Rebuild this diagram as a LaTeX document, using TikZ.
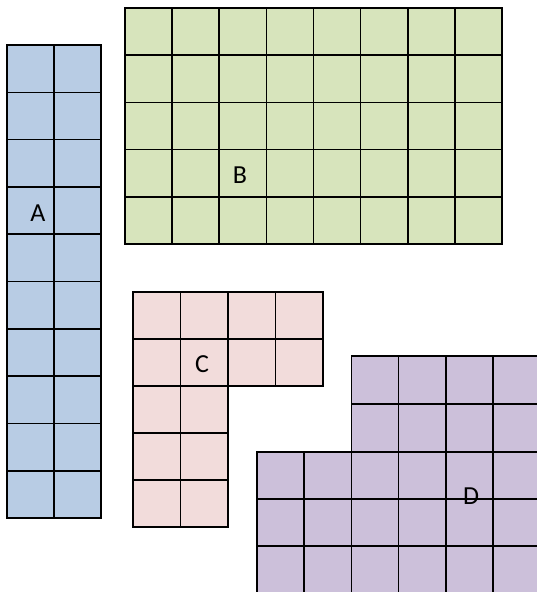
\documentclass[tikz,border=0pt]{standalone}
\usepackage{fontspec}
\setmainfont{Carlito}
\usepackage{xcolor}
\usepackage{tikz}

\definecolor{azulA}{HTML}{B8CCE4}
\definecolor{verdeB}{HTML}{D7E4BC}
\definecolor{rosaC}{HTML}{F2DCDB}
\definecolor{moradoD}{HTML}{CCC0DA}

\begin{document}
\begin{tikzpicture}[x=1pt, y=-1pt, line width=1.6pt,
  celda/.style={draw=black},
  etiqueta/.style={font=\fontsize{26}{30}\selectfont, inner sep=0pt}]
  \clip (0,0) rectangle (537,592);
  \fill[white] (0,0) rectangle (537,592);

  % Figura A
  \foreach \i in {0,1} \foreach \j in {0,...,9}
    \draw[celda, fill=azulA] (7+47*\i, 45+47.3*\j) rectangle ++(47,47.3);

  % Figura B
  \foreach \i in {0,...,7} \foreach \j in {0,...,4}
    \draw[celda, fill=verdeB] (125+47.125*\i, 8+47.2*\j) rectangle ++(47.125,47.2);

  % Figura C
  \foreach \i in {0,...,3} \foreach \j in {0,1}
    \draw[celda, fill=rosaC] (133+47.5*\i, 292+47*\j) rectangle ++(47.5,47);
  \foreach \i in {0,1} \foreach \j in {2,3,4}
    \draw[celda, fill=rosaC] (133+47.5*\i, 292+47*\j) rectangle ++(47.5,47);

  % Figura D
  \foreach \i in {2,...,5} \foreach \j in {0,1}
    \draw[celda, fill=moradoD] (257+47.2*\i, 356+48*\j) rectangle ++(47.2,48);
  \foreach \i in {0,...,5} \foreach \j in {0,1,2}
    \draw[celda, fill=moradoD] (257+47.2*\i, 452+47*\j) rectangle ++(47.2,47);

  % Etiquetas
  \node[etiqueta] (etqA) at (38,213) {A};
  \node[etiqueta] (etqB) at (240,175) {B};
  \node[etiqueta] (etqC) at (202,364) {C};
  \node[etiqueta] (etqD) at (471,496) {D};
\end{tikzpicture}
\end{document}
